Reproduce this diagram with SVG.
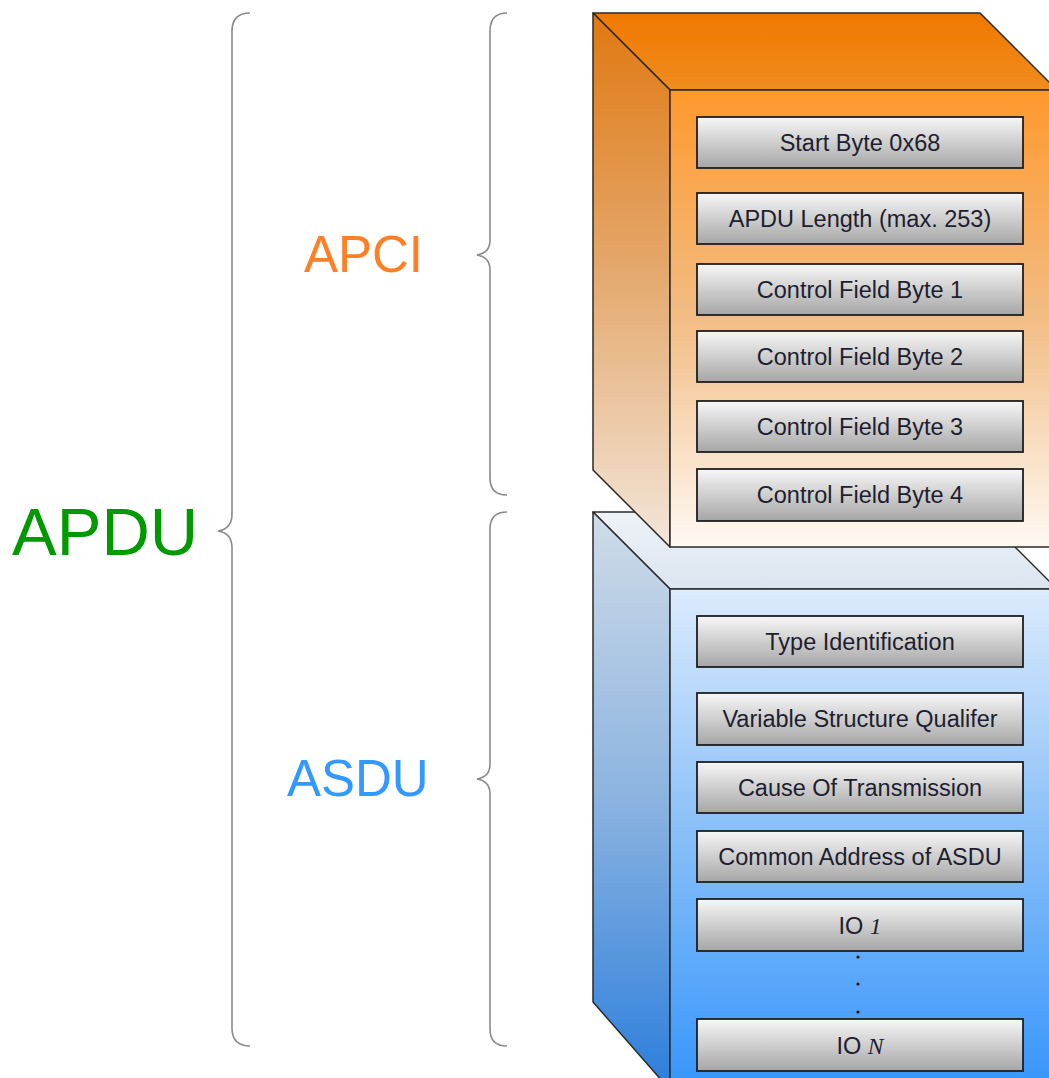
<svg xmlns="http://www.w3.org/2000/svg" width="1049" height="1078" viewBox="0 0 1049 1078">
<defs>
<linearGradient id="oTop" x1="0" y1="13" x2="0" y2="90" gradientUnits="userSpaceOnUse"><stop offset="0" stop-color="#f07800"/><stop offset="1" stop-color="#f08c1e"/></linearGradient>
<linearGradient id="oFront" x1="0" y1="90" x2="0" y2="547" gradientUnits="userSpaceOnUse"><stop offset="0" stop-color="#ff982c"/><stop offset="0.5" stop-color="#f2bd85"/><stop offset="1" stop-color="#fff9f3"/></linearGradient>
<linearGradient id="oLeft" x1="0" y1="13" x2="0" y2="547" gradientUnits="userSpaceOnUse"><stop offset="0" stop-color="#e07810"/><stop offset="0.5" stop-color="#e4aa70"/><stop offset="1" stop-color="#f3e6da"/></linearGradient>
<linearGradient id="bTop" x1="0" y1="512" x2="0" y2="589" gradientUnits="userSpaceOnUse"><stop offset="0" stop-color="#eef2f7"/><stop offset="1" stop-color="#dbe5f0"/></linearGradient>
<linearGradient id="bFront" x1="0" y1="589" x2="0" y2="1078" gradientUnits="userSpaceOnUse"><stop offset="0" stop-color="#dcebfd"/><stop offset="0.5" stop-color="#88bff8"/><stop offset="1" stop-color="#3a97fc"/></linearGradient>
<linearGradient id="bLeft" x1="0" y1="512" x2="0" y2="1078" gradientUnits="userSpaceOnUse"><stop offset="0" stop-color="#d0dce8"/><stop offset="0.5" stop-color="#8cb4e0"/><stop offset="1" stop-color="#2f80dc"/></linearGradient>
<linearGradient id="field" x1="0" y1="0" x2="0" y2="1" gradientUnits="objectBoundingBox"><stop offset="0" stop-color="#f7f7f7"/><stop offset="1" stop-color="#a6a6a6"/></linearGradient>
</defs>
<style>
.edge{stroke:#2a2a2a;stroke-width:1.5;stroke-linejoin:round}
.field rect{fill:url(#field);stroke:#1e1e1e;stroke-width:1.8}
.field text{font-family:"Liberation Sans",Arial,sans-serif;font-size:23.5px;fill:#1e1e30;text-anchor:middle}
.brace{fill:none;stroke:#8a8a8a;stroke-width:1.6}
.big{font-family:"Liberation Sans",Arial,sans-serif}
.it{font-family:"Liberation Serif","Times New Roman",serif;font-style:italic}
</style>

<g id="asdu-box">
<polygon class="edge" points="593,512 980,512 1057,589 670,589" fill="url(#bTop)"/>
<polygon class="edge" points="593,512 670,589 670,1090 593,1002" fill="url(#bLeft)"/>
<rect class="edge" x="670" y="589" width="400" height="510" fill="url(#bFront)"/>
</g>

<g id="apci-box">
<polygon class="edge" points="593,13 980,13 1057,90 670,90" fill="url(#oTop)"/>
<polygon class="edge" points="593,13 670,90 670,547 593,470" fill="url(#oLeft)"/>
<rect class="edge" x="670" y="90" width="400" height="457" fill="url(#oFront)"/>
</g>

<g id="f-start" class="field"><rect x="697" y="117" width="326" height="51"/><text x="860" y="151">Start Byte 0x68</text></g>
<g id="f-len" class="field"><rect x="697" y="193" width="326" height="51"/><text x="860" y="227">APDU Length (max. 253)</text></g>
<g id="f-cf1" class="field"><rect x="697" y="264" width="326" height="51"/><text x="860" y="298">Control Field Byte 1</text></g>
<g id="f-cf2" class="field"><rect x="697" y="331" width="326" height="51"/><text x="860" y="365">Control Field Byte 2</text></g>
<g id="f-cf3" class="field"><rect x="697" y="401" width="326" height="51"/><text x="860" y="435">Control Field Byte 3</text></g>
<g id="f-cf4" class="field"><rect x="697" y="469" width="326" height="52"/><text x="860" y="503">Control Field Byte 4</text></g>

<g id="f-type" class="field"><rect x="697" y="616" width="326" height="51"/><text x="860" y="650">Type Identification</text></g>
<g id="f-vsq" class="field"><rect x="697" y="693" width="326" height="52"/><text x="860" y="727">Variable Structure Qualifer</text></g>
<g id="f-cot" class="field"><rect x="697" y="762" width="326" height="51"/><text x="860" y="796">Cause Of Transmission</text></g>
<g id="f-ca" class="field"><rect x="697" y="831" width="326" height="51"/><text x="860" y="865">Common Address of ASDU</text></g>
<g id="f-io1" class="field"><rect x="697" y="899" width="326" height="52"/><text x="860" y="934">IO <tspan class="it">1</tspan></text></g>
<g id="dots" fill="#111"><circle cx="858" cy="957" r="1.6"/><circle cx="858" cy="984" r="1.6"/><circle cx="858" cy="1012" r="1.6"/></g>
<g id="f-ion" class="field"><rect x="697" y="1019" width="326" height="52"/><text x="860" y="1054">IO <tspan class="it">N</tspan></text></g>

<g id="braces">
<path class="brace" d="M250,13 Q232,13 232,31 L232,514 Q232,529 218,531 Q232,533 232,548 L232,1028 Q232,1046 250,1046"/>
<path class="brace" d="M507,13 Q490,13 490,31 L490,240 Q490,253 477,255 Q490,257 490,270 L490,478 Q490,495 507,495"/>
<path class="brace" d="M507,512 Q490,512 490,529 L490,764 Q490,777 477,779 Q490,781 490,794 L490,1029 Q490,1046 507,1046"/>
</g>

<g id="labels">
<text class="big" x="12" y="555" font-size="67" fill="#009a00">APDU</text>
<text class="big" x="304" y="272" font-size="51" fill="#ff8024">APCI</text>
<text class="big" x="287" y="796" font-size="51" fill="#3399ff">ASDU</text>
</g>
</svg>
